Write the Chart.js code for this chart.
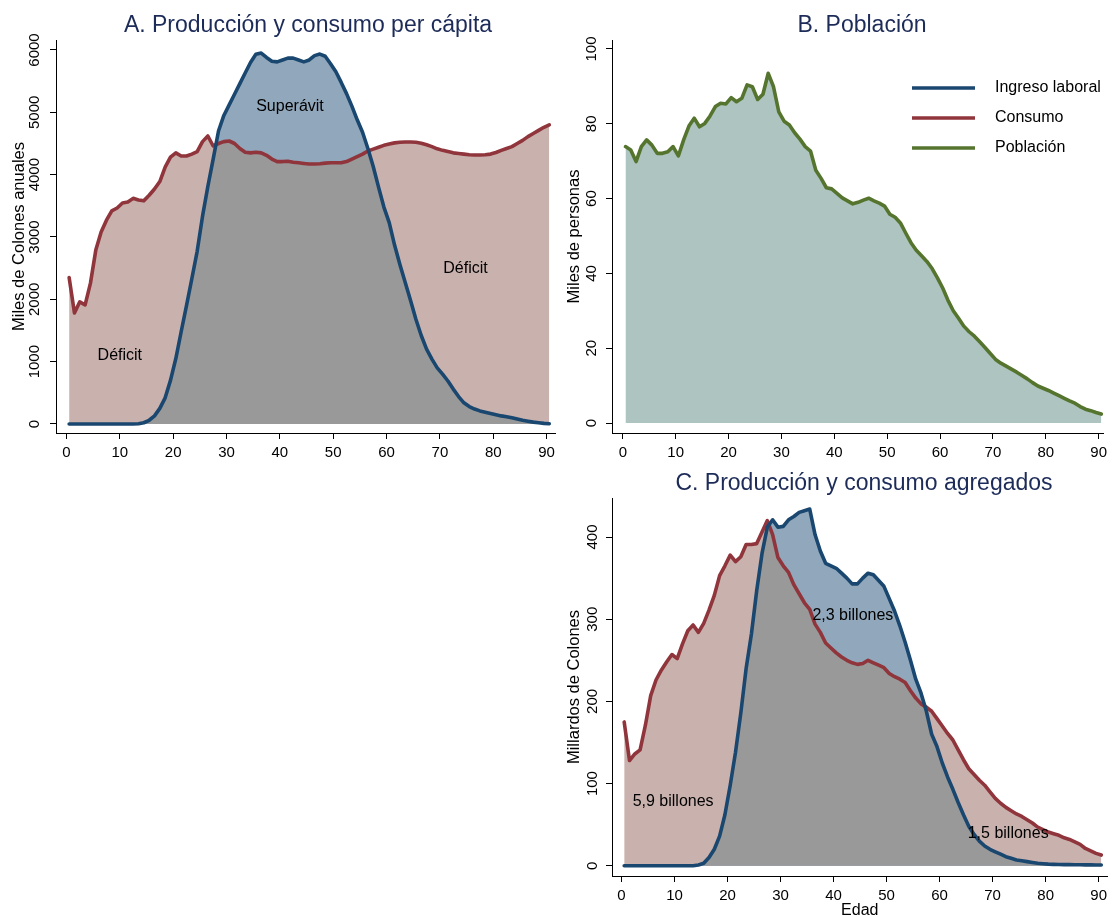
<!DOCTYPE html>
<html>
<head>
<meta charset="utf-8">
<script src="https://cdn.jsdelivr.net/npm/chart.js@4"></script>
<style>
  body { margin: 0; background: #fff; overflow: hidden; width: 1112px; height: 917px; position: relative; }
  canvas { position: absolute; }
</style>
</head>
<body>
<canvas id="chartA" width="560" height="460" style="left:0;top:0"></canvas>
<canvas id="chartB" width="556" height="460" style="left:556px;top:0"></canvas>
<canvas id="chartC" width="556" height="470" style="left:556px;top:465px"></canvas>
<script>
// edades (marca de clase)
var ages = [0.5,1.5,2.5,3.5,4.5,5.5,6.5,7.5,8.5,9.5,10.5,11.5,12.5,13.5,14.5,15.5,16.5,17.5,18.5,19.5,
  20.5,21.5,22.5,23.5,24.5,25.5,26.5,27.5,28.5,29.5,30.5,31.5,32.5,33.5,34.5,35.5,36.5,37.5,38.5,39.5,
  40.5,41.5,42.5,43.5,44.5,45.5,46.5,47.5,48.5,49.5,50.5,51.5,52.5,53.5,54.5,55.5,56.5,57.5,58.5,59.5,
  60.5,61.5,62.5,63.5,64.5,65.5,66.5,67.5,68.5,69.5,70.5,71.5,72.5,73.5,74.5,75.5,76.5,77.5,78.5,79.5,
  80.5,81.5,82.5,83.5,84.5,85.5,86.5,87.5,88.5,89.5,90.5];

// A. per capita (miles de colones)
var ingresoPc = [0,0,0,0,0,0,0,0,0,0,0,0,0,5,20,60,130,250,420,700,
  1050,1480,1900,2330,2770,3330,3810,4250,4700,4950,5120,5290,5460,5630,5800,5930,5950,5880,5820,5810,
  5840,5870,5870,5840,5810,5840,5910,5935,5900,5780,5650,5480,5300,5100,4880,4680,4420,4130,3800,3480,
  3230,2870,2560,2270,1980,1680,1420,1200,1040,900,800,690,560,440,340,280,240,210,190,170,
  150,130,115,100,80,60,45,30,20,10,5];
var consumoPc = [2350,1780,1960,1910,2260,2790,3080,3270,3420,3465,3545,3560,3620,3595,3580,3670,3770,3890,4120,4280,
  4350,4300,4300,4330,4370,4530,4620,4460,4500,4530,4540,4500,4420,4360,4350,4360,4350,4310,4250,4210,
  4210,4215,4200,4190,4180,4170,4170,4175,4185,4190,4190,4190,4210,4250,4290,4330,4380,4410,4440,4470,
  4490,4510,4520,4525,4525,4520,4505,4480,4450,4415,4390,4370,4350,4340,4330,4320,4315,4315,4320,4330,
  4355,4390,4420,4450,4500,4550,4610,4660,4710,4760,4800];

// B. poblacion (miles de personas)
var poblacion = [73.9,73.0,69.9,73.9,75.7,74.3,72.1,72.1,72.5,73.9,71.4,75.7,79.4,81.5,79.2,80.1,82.1,84.6,85.5,85.3,
  87.0,85.9,86.8,90.4,89.9,86.5,87.9,93.5,89.9,83.2,80.7,79.7,77.6,75.9,73.9,72.7,67.6,65.4,62.9,62.6,
  61.4,60.2,59.4,58.6,59.0,59.6,60.1,59.4,58.8,58.0,55.8,55.0,53.5,50.8,48.2,46.2,44.7,43.2,41.3,38.8,
  36.1,32.8,30.0,28.0,25.9,24.4,23.2,21.7,20.2,18.6,17.0,16.0,15.2,14.4,13.6,12.7,11.8,10.8,9.9,9.3,
  8.7,8.0,7.3,6.6,5.9,5.3,4.4,3.7,3.3,2.8,2.4];

// C. agregados (millardos de colones)
var ingresoAg = [0,0,0,0,0,0,0,0,0,0,0,0,0,0,1,3,10,20,36,62,
  98,138,186,240,282,335,380,412,421,412,413,421,425,430,432,434,403,383,368,365,
  362,356,350,343,343,350,356,354,347,340,325,310,292,272,250,227,210,188,160,145,
  125,108,93,77,62,48,38,30,24,20,17,14,11,9,7,6,5,4,3,2.5,
  2,1.7,1.5,1.4,1.3,1.2,1.1,1,1,0.9,0.8];
var consumoAg = [175,128,136,141,171,207,226,238,248,257,252,270,286,293,284,295,311,329,353,365,
  378,370,376,391,391,392,406,420,403,375,365,357,342,331,320,312,294,284,271,265,
  259,254,250,247,245,246,250,247,244,241,234,230,227,223,213,204,197,193,188,179,
  170,161,153,141,129,118,111,104,98,90,82,76,71,67,63,60,56,52,47,44,
  41,39,37,34,32,29,26,21,18,15,13];

var xTicks = [0,10,20,30,40,50,60,70,80,90];
var yTicksA = [0,1000,2000,3000,4000,5000,6000];
var yTicksB = [0,20,40,60,80,100];
var yTicksC = [0,100,200,300,400];

var AZUL = '#1a476f', ROJO = '#90353b', VERDE = '#55752f';
var AZUL_F = '#91a7bb', ROJO_F = '#c9b2ae', GRIS_F = '#999999', VERDE_F = '#adc4c0';

Chart.defaults.font.family = 'Liberation Sans';
Chart.defaults.color = '#000';

function pts(arr) {
  return ages.map(function (a, i) { return { x: a, y: arr[i] }; });
}
function minOf(a, b) {
  return a.map(function (v, i) { return Math.min(v, b[i]); });
}

function lineSet(label, arr, color, fillColor) {
  return {
    label: label, data: pts(arr), borderColor: color, backgroundColor: fillColor,
    borderWidth: 3.6, pointRadius: 0, fill: fillColor ? 'origin' : false,
    borderJoinStyle: 'round', borderCapStyle: 'round', tension: 0
  };
}

function axisX(min, max, height, title) {
  return {
    type: 'linear', min: min, max: max,
    afterBuildTicks: function (s) { s.ticks = xTicks.map(function (v) { return { value: v }; }); },
    afterFit: function (s) { s.height = height; },
    grid: { drawOnChartArea: false, drawTicks: true, tickLength: 6, color: '#000' },
    border: { display: true, color: '#000', width: 1 },
    ticks: { font: { size: 15 }, padding: 5, maxRotation: 0, callback: function (v) { return v; } },
    title: title ? { display: true, text: title, font: { size: 16 }, padding: { top: 0, bottom: 15 } } : { display: false }
  };
}

function axisY(min, max, ticks, title, pad, tpad) {
  return {
    min: min, max: max,
    afterBuildTicks: function (s) { s.ticks = ticks.map(function (v) { return { value: v }; }); },
    afterFit: function (s) { s.width = 56; },
    grid: { drawOnChartArea: false, drawTicks: true, tickLength: 6, color: '#000' },
    border: { display: true, color: '#000', width: 1 },
    ticks: { font: { size: 15 }, minRotation: 90, maxRotation: 90, crossAlign: 'center', padding: pad,
      callback: function (v) { return v; } },
    title: { display: true, text: title, font: { size: 16.5 }, padding: { top: tpad, bottom: 0 } }
  };
}

// titulos, textos y leyenda
var notas = {
  id: 'notas',
  afterDraw: function (chart, args, opts) {
    var ctx = chart.ctx;
    ctx.save();
    ctx.fillStyle = '#1c2b58';
    ctx.font = '23px Liberation Sans';
    ctx.textAlign = 'center';
    ctx.textBaseline = 'alphabetic';
    ctx.fillText(opts.title, opts.tx, opts.ty);
    ctx.fillStyle = '#000';
    ctx.font = '16px Liberation Sans';
    ctx.textBaseline = 'middle';
    (opts.labels || []).forEach(function (l) {
      ctx.textAlign = l.align || 'center';
      ctx.fillText(l.text, chart.scales.x.getPixelForValue(l.x), chart.scales.y.getPixelForValue(l.y));
    });
    if (opts.legend) {
      ctx.textAlign = 'left';
      chart.data.datasets.slice().reverse().forEach(function (d, i) {
        var y = opts.legend.y + i * 30;
        ctx.strokeStyle = d.borderColor;
        ctx.lineWidth = 3.6;
        ctx.beginPath();
        ctx.moveTo(opts.legend.x, y);
        ctx.lineTo(opts.legend.x + 63, y);
        ctx.stroke();
        ctx.fillText(d.label, opts.legend.x + 83, y);
      });
    }
    ctx.restore();
  }
};

new Chart(document.getElementById('chartA').getContext('2d'), {
  type: 'line',
  data: {
    datasets: [
      { label: 'min', data: pts(minOf(ingresoPc, consumoPc)), borderWidth: 0, pointRadius: 0,
        backgroundColor: GRIS_F, fill: 'origin' },
      lineSet('Ingreso laboral', ingresoPc, AZUL, AZUL_F),
      lineSet('Consumo', consumoPc, ROJO, ROJO_F)
    ]
  },
  options: {
    responsive: false, animation: false,
    layout: { padding: { top: 40, right: 3, left: 0, bottom: 0 } },
    scales: {
      x: axisX(-1.96, 91.6, 27),
      y: axisY(-144.4, 6160.4, yTicksA, 'Miles de Colones anuales', -2, 9.1)
    },
    plugins: {
      legend: { display: false }, tooltip: { enabled: false },
      filler: { drawTime: 'beforeDatasetsDraw' },
      notas: {
        title: 'A. Producción y consumo per cápita', tx: 308, ty: 31.5,
        labels: [
          { text: 'Superávit', x: 41.9, y: 5086 },
          { text: 'Déficit', x: 10, y: 1091 },
          { text: 'Déficit', x: 74.8, y: 2487 }
        ]
      }
    }
  },
  plugins: [notas]
});

new Chart(document.getElementById('chartB').getContext('2d'), {
  type: 'line',
  data: {
    datasets: [
      lineSet('Población', poblacion, VERDE, VERDE_F),
      { label: 'Consumo', data: [], borderColor: ROJO },
      { label: 'Ingreso laboral', data: [], borderColor: AZUL }
    ]
  },
  options: {
    responsive: false, animation: false,
    layout: { padding: { top: 40, right: 1, left: 0, bottom: 0 } },
    scales: {
      x: axisX(-2.05, 90.93, 27),
      y: axisY(-2.67, 102.4, yTicksB, 'Miles de personas', 2, 8.1)
    },
    plugins: {
      legend: { display: false }, tooltip: { enabled: false },
      filler: { drawTime: 'beforeDatasetsDraw' },
      notas: { title: 'B. Población', tx: 306, ty: 31.5, legend: { x: 356, y: 88 } }
    }
  },
  plugins: [notas]
});

new Chart(document.getElementById('chartC').getContext('2d'), {
  type: 'line',
  data: {
    datasets: [
      { label: 'min', data: pts(minOf(ingresoAg, consumoAg)), borderWidth: 0, pointRadius: 0,
        backgroundColor: GRIS_F, fill: 'origin' },
      lineSet('Ingreso laboral', ingresoAg, AZUL, AZUL_F),
      lineSet('Consumo', consumoAg, ROJO, ROJO_F)
    ]
  },
  options: {
    responsive: false, animation: false,
    layout: { padding: { top: 33, right: 1, left: 0, bottom: 0 } },
    scales: {
      x: axisX(-1.8, 91.69, 59, 'Edad'),
      y: axisY(-12.5, 447.5, yTicksC, 'Millardos de Colones', 0.5, 8.1)
    },
    plugins: {
      legend: { display: false }, tooltip: { enabled: false },
      filler: { drawTime: 'beforeDatasetsDraw' },
      notas: {
        title: 'C. Producción y consumo agregados', tx: 308, ty: 25,
        labels: [
          { text: '2,3 billones', x: 36.0, y: 304, align: 'left' },
          { text: '5,9 billones', x: 2.1, y: 77.7, align: 'left' },
          { text: '1,5 billones', x: 65.3, y: 38.8, align: 'left' }
        ]
      }
    }
  },
  plugins: [notas]
});
</script>
</body>
</html>
